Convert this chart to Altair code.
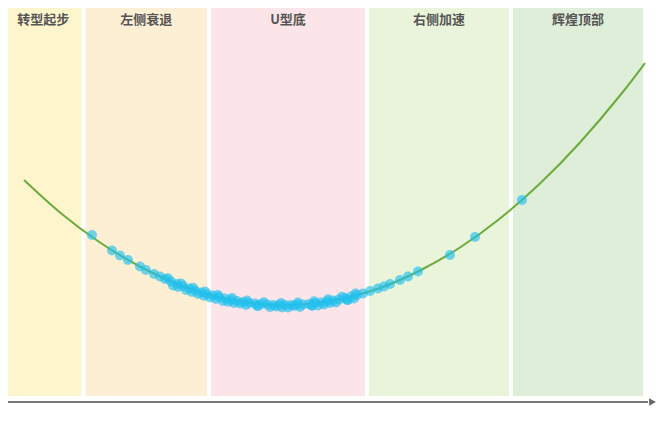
import altair as alt
import pandas as pd

# Phases (bands)
phase_names = ["转型起步", "左侧衰退", "U型底", "右侧加速", "辉煌顶部"]
phase_start = [-1.0, 15.1, 40.2, 71.8, 100.6]
phase_end = [15.1, 40.2, 71.8, 100.6, 127.4]
phase_colors = ["#fdf6cd", "#fdefd3", "#fce5e8", "#eaf4db", "#dfeed9"]

# Trend curve
curve_x = [3.2, 10.4, 18.4, 26.4, 34.4, 42.4, 50.4, 58.4, 66.4, 74.4, 82.4, 90.4, 98.4, 106.4, 114.4, 122.4, 127.4]
curve_y = [43.6, 37.1, 31.1, 26.3, 22.6, 20.1, 18.8, 18.7, 19.8, 22.0, 25.5, 30.1, 35.9, 42.9, 51.1, 60.5, 67.0]

# Scatter points
pt_x = [16.8, 20.8, 22.4, 24.0, 26.4, 27.6, 29.2, 30.4,
        31.4, 32.6, 33.8, 35.0, 36.2, 37.4, 38.6, 39.8, 41.0, 42.2, 43.4, 44.6, 45.8, 47.0,
        48.2, 49.4, 50.6, 51.8, 53.0, 54.2, 55.4, 56.6, 57.8, 59.0, 60.2, 61.4, 62.6, 63.8,
        65.0, 66.2, 67.4, 68.6, 69.8,
        33.0, 35.6, 38.0, 40.4, 43.0, 46.4, 49.8, 53.6, 57.2, 60.8, 64.4, 67.8,
        34.0, 36.8, 39.2, 41.6, 44.0, 45.2, 47.6, 50.0, 52.4, 54.8, 56.0, 58.4, 60.8, 62.0,
        63.2, 65.6, 68.0, 69.2,
        32.0, 34.6, 37.0, 39.4, 42.0, 44.8, 47.8, 51.2, 54.6, 58.0, 61.2, 64.0, 66.8, 69.5,
        71.0, 72.4, 74.0, 75.2, 76.4, 78.4, 80.0, 82.0, 88.4, 93.4, 102.8]
pt_y = [32.6, 29.5, 28.5, 27.6, 26.3, 25.6, 24.8, 24.3,
        23.8, 23.3, 22.8, 22.4, 21.9, 21.5, 21.1, 20.8, 20.5, 20.2, 19.9, 19.6, 19.4, 19.2,
        19.0, 18.9, 18.8, 18.7, 18.6, 18.6, 18.6, 18.6, 18.7, 18.7, 18.8, 19.0, 19.1, 19.3,
        19.5, 19.7, 20.0, 20.3, 20.6,
        22.5, 21.6, 20.8, 20.1, 19.4, 18.9, 18.5, 18.3, 18.4, 18.6, 19.0, 19.6,
        22.2, 21.2, 20.45, 19.8, 19.25, 19.0, 18.6, 18.35, 18.2, 18.1, 18.1, 18.2, 18.4, 18.5,
        18.7, 19.1, 19.6, 19.9,
        23.96, 22.9, 22.05, 21.3, 20.6, 20.0, 19.5, 19.15, 19.0, 19.1, 19.35, 19.75, 20.25, 20.9,
        20.9, 21.4, 21.9, 22.3, 22.8, 23.6, 24.3, 25.3, 28.6, 32.2, 39.6]

bands = pd.DataFrame({"name": phase_names, "x": phase_start, "x2": phase_end, "color": phase_colors})
curve = pd.DataFrame({"x": curve_x, "y": curve_y})
pts = pd.DataFrame({"x": pt_x, "y": pt_y})
arrow = pd.DataFrame({"x": [-2.0], "x2": [128.0], "y": [-0.8]})
head = pd.DataFrame({"x": [128.9], "y": [-0.8]})

xs = alt.Scale(domain=[0, 128.4], nice=False, zero=False)
ys = alt.Scale(domain=[0, 78], nice=False, zero=False)

rects = alt.Chart(bands).mark_rect(stroke="white", strokeWidth=4).encode(
    x=alt.X("x:Q", scale=xs, axis=None),
    x2="x2:Q",
    y=alt.value(-2),
    y2=alt.value(390),
    color=alt.Color("color:N", scale=None),
)

labels = alt.Chart(bands).transform_calculate(
    mid="(datum.x + datum.x2) / 2"
).mark_text(
    font="Noto Sans CJK SC", fontSize=13, fontWeight="bold", color="#555555", baseline="middle"
).encode(
    x=alt.X("mid:Q", scale=xs, axis=None),
    y=alt.value(12),
    text="name:N",
)

line = alt.Chart(curve).mark_line(color="#6aab3b", strokeWidth=2, interpolate="natural").encode(
    x=alt.X("x:Q", scale=xs, axis=None),
    y=alt.Y("y:Q", scale=ys, axis=None),
)

points = alt.Chart(pts).mark_circle(color="#22c0ee", opacity=0.65, size=100).encode(
    x=alt.X("x:Q", scale=xs, axis=None),
    y=alt.Y("y:Q", scale=ys, axis=None),
)

axis_line = alt.Chart(arrow).mark_rule(color="#777777", strokeWidth=2).encode(
    x=alt.X("x:Q", scale=xs, axis=None),
    x2="x2:Q",
    y=alt.Y("y:Q", scale=ys, axis=None),
)

arrow_head = alt.Chart(head).mark_point(shape="triangle-right", filled=True, color="#666666", size=60, opacity=1).encode(
    x=alt.X("x:Q", scale=xs, axis=None),
    y=alt.Y("y:Q", scale=ys, axis=None),
)

chart = alt.layer(rects, labels, line, points, axis_line, arrow_head).properties(
    width=642, height=390,
    autosize=alt.AutoSizeParams(type="none"),
    padding={"left": 0, "top": 0, "right": 8, "bottom": 14},
).configure_view(strokeWidth=0)

chart.save("out.html", embed_options={"renderer": "svg", "actions": False})
